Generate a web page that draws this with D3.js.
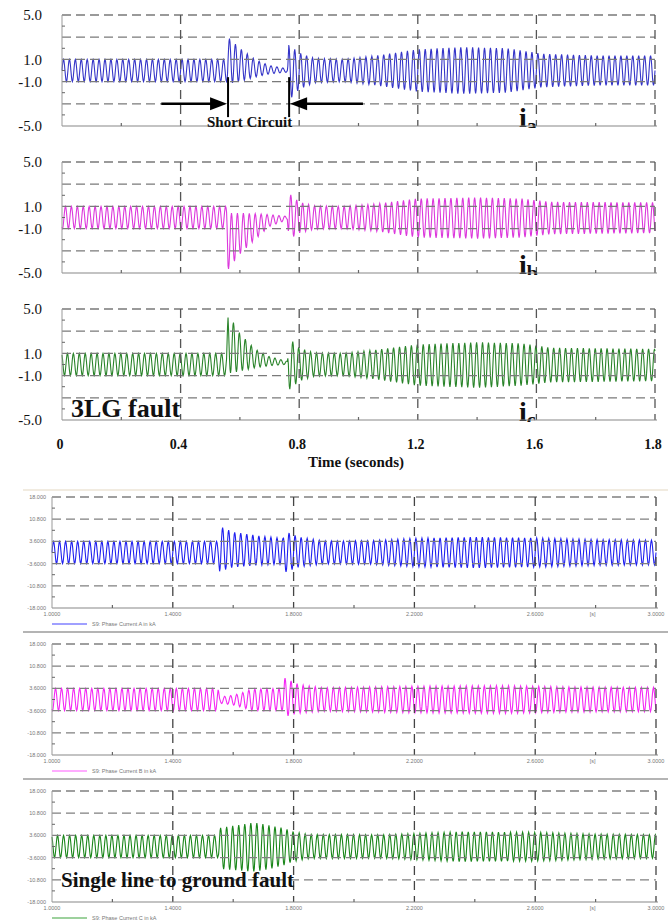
<!DOCTYPE html>
<html>
<head>
<meta charset="utf-8">
<script src="https://cdn.jsdelivr.net/npm/d3@7"></script>
<style>
  html, body { margin: 0; padding: 0; background: #fff; }
  svg { display: block; }
  .serif { font-family: "Liberation Serif", "DejaVu Serif", serif; }
  .tiny { font-family: "Liberation Sans", Arial, sans-serif; font-size: 5.5px; fill: #777; }
</style>
</head>
<body>
<div id="chart"></div>
<script>
(function () {
  'use strict';

  // -----------------------------------------------------------------
  // Top block: 3LG fault (time in s, current scale -5..5)
  // -----------------------------------------------------------------
  var TOP_X_TICKS  = [0, 0.4, 0.8, 1.2, 1.6, 2.0];
  var TOP_X_LABELS = ['0', '0.4', '0.8', '1.2', '1.6', '1.8'];
  var TOP_X_MINOR  = [0.2, 0.6, 1.0, 1.4, 1.8];
  var TOP_Y_GRID   = [5, 3, 1, -1, -3];
  var TOP_Y_MINOR  = [4, 2, 0, -2, -4];
  var TOP_Y_TICKS  = [5, 1, -1, -5];
  var TOP_Y_LABELS = ['5.0', '1.0', '-1.0', '-5.0'];
  var TOP_NAMES    = ['a', 'b', 'c'];

  // envelopes: [time, upper peak, lower peak]
  var TOP_IA = [
    [0, 1, -1], [0.555, 1, -1], [0.56, 3.0, -1.2], [0.6, 2.0, -1.0],
    [0.65, 1.0, -0.6], [0.7, 0.45, -0.3], [0.76, 0.15, -0.15],
    [0.765, 2.3, -2.7], [0.8, 1.6, -1.7], [0.85, 1.1, -1.1],
    [0.95, 1.0, -1.0], [1.05, 1.3, -1.3], [1.2, 1.9, -1.9],
    [1.35, 2.1, -2.1], [1.5, 2.0, -2.0], [1.62, 1.5, -1.5],
    [1.8, 1.35, -1.35], [2.0, 1.35, -1.35]
  ];
  var TOP_IB = [
    [0, 1, -1], [0.555, 1, -1], [0.56, 0.4, -4.7], [0.6, 0.4, -3.3],
    [0.65, 0.35, -2.0], [0.7, 0.25, -0.8], [0.76, 0.1, -0.2],
    [0.765, 2.2, -2.0], [0.8, 1.4, -1.4], [0.85, 1.05, -1.05],
    [0.95, 1.0, -1.0], [1.05, 1.2, -1.2], [1.2, 1.7, -1.8],
    [1.4, 1.8, -1.9], [1.55, 1.7, -1.8], [1.65, 1.4, -1.5],
    [2.0, 1.35, -1.4]
  ];
  var TOP_IC = [
    [0, 1, -1], [0.555, 1, -1], [0.56, 4.6, -0.8], [0.6, 2.8, -0.6],
    [0.65, 1.4, -0.3], [0.7, 0.7, -0.1], [0.76, 0.3, 0.0],
    [0.765, 2.4, -2.3], [0.8, 1.5, -1.5], [0.85, 1.05, -1.05],
    [0.95, 1.0, -1.0], [1.05, 1.3, -1.3], [1.2, 1.8, -1.9],
    [1.4, 2.0, -2.1], [1.55, 1.9, -1.9], [1.65, 1.5, -1.6],
    [2.0, 1.4, -1.5]
  ];
  var FAULT_TIMES = [0.56, 0.766];   // short circuit on / cleared
  var ARROW_FROM  = [0.335, 1.015];
  var MARK_SPAN   = [-0.6, -4.2];
  var ARROW_LEVEL = -3;

  // -----------------------------------------------------------------
  // Bottom block: single line to ground fault (kA)
  // -----------------------------------------------------------------
  var BOT_X_TICKS  = [1.0, 1.4, 1.8, 2.2, 2.6, 3.0];
  var BOT_X_LABELS = ['1.0000', '1.4000', '1.8000', '2.2000', '2.6000', '3.0000'];
  var BOT_X_MINOR  = [1.2, 1.6, 2.0, 2.4, 2.8];
  var BOT_Y_TICKS  = [18, 10.8, 3.6, -3.6, -10.8, -18];
  var BOT_Y_LABELS = ['18.000', '10.800', '3.6000', '-3.6000', '-10.800', '-18.000'];
  var BOT_Y_MINOR  = [14.4, 7.2, 0, -7.2, -14.4];
  var BOT_UNIT_AT  = 2.79;
  var BOT_LEGEND   = ['S9: Phase Current A in kA', 'S9: Phase Current B in kA', 'S9: Phase Current C in kA'];

  var BOT_IA = [
    [1.0, 3.6, -3.6], [1.55, 3.6, -3.6], [1.555, 8.5, -6.1], [1.6, 6.6, -4.8],
    [1.7, 5.2, -4.0], [1.765, 4.6, -3.8], [1.77, 6.9, -6.5], [1.82, 5.0, -4.6],
    [1.9, 3.7, -3.7], [2.05, 3.8, -3.8], [2.2, 4.6, -4.6], [2.4, 5.0, -5.0],
    [2.6, 4.7, -4.7], [2.8, 4.2, -4.2], [3.0, 4.0, -4.0]
  ];
  var BOT_IB = [
    [1.0, 3.6, -3.6], [1.55, 3.6, -3.6], [1.555, 0.8, -1.2], [1.6, 1.4, -1.8],
    [1.63, 2.2, -2.6], [1.66, 3.4, -3.6], [1.765, 3.6, -3.6], [1.77, 7.0, -5.6],
    [1.82, 4.8, -4.4], [1.9, 3.8, -3.8], [2.2, 4.3, -4.3], [2.5, 4.5, -4.5],
    [2.7, 4.1, -4.1], [3.0, 3.9, -3.9]
  ];
  var BOT_IC = [
    [1.0, 3.6, -3.6], [1.55, 3.6, -3.6], [1.555, 6.0, -7.2], [1.62, 7.0, -7.8],
    [1.67, 7.8, -8.1], [1.72, 6.8, -7.3], [1.77, 5.9, -6.0], [1.8, 4.8, -4.8],
    [1.85, 3.9, -3.9], [2.1, 3.8, -3.8], [2.35, 4.8, -4.9], [2.6, 4.6, -4.7],
    [2.8, 4.0, -4.1], [3.0, 3.8, -3.8]
  ];

  var SYS_FREQ    = 50;               // Hz carrier under the envelopes
  var PHASE_SHIFT = [0, -120, 120];   // a, b, c
  var STEPS       = 12;               // samples per cycle

  // -----------------------------------------------------------------
  // layout
  // -----------------------------------------------------------------
  var W = 668, H = 922;
  var TOP = { x0: 62, x1: 655, tops: [15, 162, 309], h: 111,
    colors: ['#3535c8', '#dc38dc', '#2a842a'] };
  var BOT = { x0: 52, x1: 656, tops: [497, 644, 791], h: 111,
    colors: ['#2020f0', '#f428f4', '#1a861a'],
    legend: ['#8080ff', '#ff90ff', '#7cc27c'] };

  var svg = d3.select('#chart').append('svg')
    .attr('width', W).attr('height', H)
    .attr('viewBox', '0 0 ' + W + ' ' + H);

  function waveform(env, t0, t1, shift) {
    var ts = env.map(function (d) { return d[0]; });
    var up = d3.scaleLinear().domain(ts).range(env.map(function (d) { return d[1]; }));
    var lo = d3.scaleLinear().domain(ts).range(env.map(function (d) { return d[2]; }));
    var n = Math.round((t1 - t0) * SYS_FREQ * STEPS);
    var pts = [];
    for (var i = 0; i <= n; i++) {
      var t = t0 + (t1 - t0) * i / n;
      var u = up(t), l = lo(t);
      var ph = 2 * Math.PI * SYS_FREQ * t + shift * Math.PI / 180;
      pts.push([t, (u + l) / 2 + (u - l) / 2 * Math.sin(ph)]);
    }
    return pts;
  }

  function hDash(g, x, y, vals, color) {
    g.selectAll(null).data(vals).join('line')
      .attr('x1', x.range()[0]).attr('x2', x.range()[1])
      .attr('y1', function (d) { return y(d); }).attr('y2', function (d) { return y(d); })
      .attr('stroke', color).attr('stroke-width', 1.3).attr('stroke-dasharray', '9,5');
  }
  function vDash(g, x, y, vals, color) {
    g.selectAll(null).data(vals).join('line')
      .attr('x1', function (d) { return x(d); }).attr('x2', function (d) { return x(d); })
      .attr('y1', y.range()[1]).attr('y2', y.range()[0])
      .attr('stroke', color).attr('stroke-width', 1.3).attr('stroke-dasharray', '9,6');
  }
  function frame(g, x, y, xMinor, yMinor) {
    var x0 = x.range()[0], x1 = x.range()[1], yb = y.range()[0], yt = y.range()[1];
    g.append('line').attr('x1', x0).attr('x2', x1 + 2).attr('y1', yb).attr('y2', yb)
      .attr('stroke', '#888').attr('stroke-width', 1.2);
    g.append('line').attr('x1', x0).attr('x2', x0).attr('y1', yt).attr('y2', yb)
      .attr('stroke', '#999').attr('stroke-width', 1);
    g.selectAll(null).data(xMinor).join('line')
      .attr('x1', function (d) { return x(d); }).attr('x2', function (d) { return x(d); })
      .attr('y1', yb).attr('y2', yb - 3).attr('stroke', '#666').attr('stroke-width', 1.2);
    g.selectAll(null).data(yMinor).join('line')
      .attr('x1', x0).attr('x2', x0 + 3)
      .attr('y1', function (d) { return y(d); }).attr('y2', function (d) { return y(d); })
      .attr('stroke', '#666').attr('stroke-width', 1);
  }

  // -----------------------------------------------------------------
  // TOP BLOCK
  // -----------------------------------------------------------------
  var xTop = d3.scaleLinear().domain([0, 2.0]).range([TOP.x0, TOP.x1]);
  var topData = [TOP_IA, TOP_IB, TOP_IC];

  topData.forEach(function (env, k) {
    var y = d3.scaleLinear().domain([-5, 5]).range([TOP.tops[k] + TOP.h, TOP.tops[k]]);
    var g = svg.append('g');
    var clipId = 'clipTop' + k;
    svg.append('clipPath').attr('id', clipId).append('rect')
      .attr('x', 0).attr('y', TOP.tops[k] - 3).attr('width', W).attr('height', TOP.h + 5);
    var inner = g.append('g').attr('clip-path', 'url(#' + clipId + ')');

    var line = d3.line().x(function (d) { return xTop(d[0]); }).y(function (d) { return y(d[1]); });
    inner.append('path')
      .datum(waveform(env, 0, 2.0, PHASE_SHIFT[k]))
      .attr('d', line).attr('fill', 'none')
      .attr('stroke', TOP.colors[k]).attr('stroke-width', 1.1);

    hDash(inner, xTop, y, TOP_Y_GRID, '#7a7a7a');
    vDash(inner, xTop, y, TOP_X_TICKS.slice(1), '#555');
    frame(g, xTop, y, TOP_X_MINOR, TOP_Y_MINOR);

    g.selectAll(null).data(TOP_Y_TICKS).join('text')
      .attr('class', 'serif')
      .attr('x', 42).attr('y', function (d) { return y(d); }).attr('dy', '0.35em')
      .attr('text-anchor', 'end').attr('font-size', 15).attr('fill', '#111')
      .text(function (d, i) { return TOP_Y_LABELS[i]; });

    // phase label i_a / i_b / i_c, cut at the panel bottom
    var lab = inner.append('text').attr('class', 'serif')
      .attr('x', 519).attr('y', TOP.tops[k] + TOP.h + 1)
      .attr('font-weight', 'bold').attr('fill', '#111');
    lab.append('tspan').attr('font-size', 28).text('i');
    lab.append('tspan').attr('font-size', 20).attr('dy', 6).text(TOP_NAMES[k]);

    if (k === 0) {
      // short circuit markers and arrows
      FAULT_TIMES.forEach(function (ft) {
        g.append('line').attr('x1', xTop(ft)).attr('x2', xTop(ft))
          .attr('y1', y(MARK_SPAN[0])).attr('y2', y(MARK_SPAN[1]))
          .attr('stroke', '#000').attr('stroke-width', 2);
      });
      ARROW_FROM.forEach(function (from, i) {
        var tip = xTop(FAULT_TIMES[i]) + (i === 0 ? -1 : 1);
        var dir = i === 0 ? 1 : -1;
        var ay = y(ARROW_LEVEL);
        g.append('line').attr('x1', xTop(from)).attr('x2', tip - dir * 12)
          .attr('y1', ay).attr('y2', ay).attr('stroke', '#000').attr('stroke-width', 2.6);
        g.append('path')
          .attr('d', 'M' + tip + ',' + ay + 'L' + (tip - dir * 17) + ',' + (ay - 6.5) +
                     'L' + (tip - dir * 17) + ',' + (ay + 6.5) + 'Z')
          .attr('fill', '#000');
      });
      g.append('text').attr('class', 'serif')
        .attr('x', 207).attr('y', y(-5) + 1)
        .attr('font-size', 15).attr('font-weight', 'bold').attr('fill', '#111')
        .text('Short Circuit');
    }
    if (k === 2) {
      g.append('text').attr('class', 'serif')
        .attr('x', 71).attr('y', y(-5) - 3)
        .attr('font-size', 26).attr('font-weight', 'bold').attr('fill', '#111')
        .text('3LG fault');

      g.selectAll(null).data(TOP_X_TICKS).join('text')
        .attr('class', 'serif')
        .attr('x', function (d) { return xTop(d) - 2; }).attr('y', 449)
        .attr('text-anchor', 'middle').attr('font-size', 14).attr('font-weight', 'bold')
        .attr('fill', '#111')
        .text(function (d, i) { return TOP_X_LABELS[i]; });

      g.append('text').attr('class', 'serif')
        .attr('x', 356).attr('y', 467).attr('text-anchor', 'middle')
        .attr('font-size', 15).attr('font-weight', 'bold').attr('fill', '#111')
        .text('Time (seconds)');
    }
  });

  // -----------------------------------------------------------------
  // BOTTOM BLOCK
  // -----------------------------------------------------------------
  var xBot = d3.scaleLinear().domain([1.0, 3.0]).range([BOT.x0, BOT.x1]);
  var botData = [BOT_IA, BOT_IB, BOT_IC];

  svg.append('line').attr('x1', 23).attr('x2', W).attr('y1', 490).attr('y2', 490)
    .attr('stroke', '#ece4d6').attr('stroke-width', 1.5);

  botData.forEach(function (env, k) {
    var yb = BOT.tops[k] + BOT.h;
    var y = d3.scaleLinear().domain([-18, 18]).range([yb, BOT.tops[k]]);
    var g = svg.append('g');

    var line = d3.line().x(function (d) { return xBot(d[0]); }).y(function (d) { return y(d[1]); });
    g.append('path')
      .datum(waveform(env, 1.0, 3.0, PHASE_SHIFT[k]))
      .attr('d', line).attr('fill', 'none')
      .attr('stroke', BOT.colors[k]).attr('stroke-width', 1.1);

    hDash(g, xBot, y, BOT_Y_TICKS.slice(0, 5), '#808080');
    vDash(g, xBot, y, BOT_X_TICKS.slice(1), '#444');
    frame(g, xBot, y, BOT_X_MINOR, BOT_Y_MINOR);

    g.selectAll(null).data(BOT_Y_TICKS).join('text')
      .attr('class', 'tiny')
      .attr('x', 46).attr('y', function (d) { return y(d); }).attr('dy', '0.35em')
      .attr('text-anchor', 'end')
      .text(function (d, i) { return BOT_Y_LABELS[i]; });

    g.selectAll(null).data(BOT_X_TICKS).join('text')
      .attr('class', 'tiny')
      .attr('x', function (d) { return xBot(d); }).attr('y', yb + 8)
      .attr('text-anchor', 'middle')
      .text(function (d, i) { return BOT_X_LABELS[i]; });
    g.append('text').attr('class', 'tiny')
      .attr('x', xBot(BOT_UNIT_AT)).attr('y', yb + 8).attr('text-anchor', 'middle')
      .text('[s]');

    // legend row
    g.append('line').attr('x1', 52).attr('x2', 87).attr('y1', yb + 16).attr('y2', yb + 16)
      .attr('stroke', BOT.legend[k]).attr('stroke-width', 1.5);
    g.append('text').attr('class', 'tiny')
      .attr('x', 92).attr('y', yb + 18)
      .text(BOT_LEGEND[k]);

    if (k < 2) {
      g.append('line').attr('x1', 23).attr('x2', W).attr('y1', yb + 24).attr('y2', yb + 24)
        .attr('stroke', '#b4b4b4').attr('stroke-width', 2);
    }
    if (k === 2) {
      g.append('text').attr('class', 'serif')
        .attr('x', 61).attr('y', 887)
        .attr('font-size', 21).attr('font-weight', 'bold').attr('fill', '#111')
        .text('Single line to ground fault');
    }
  });

})();
</script>
</body>
</html>
